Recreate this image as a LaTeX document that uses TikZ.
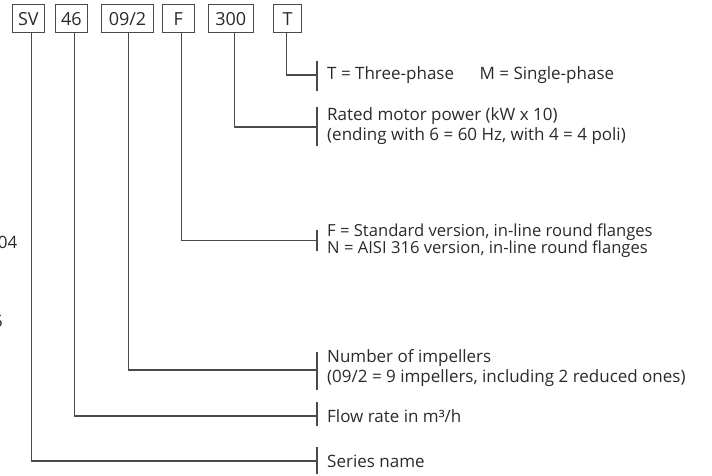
\documentclass[tikz,border=0pt]{standalone}
\usepackage{fontspec}
\setmainfont{Open Sans}
\definecolor{linec}{HTML}{4A4A4A}
\definecolor{txt}{HTML}{2A2A2A}
\begin{document}
\begin{tikzpicture}[x=1pt,y=-1pt,
  code/.style={draw=linec, line width=0.9pt, minimum height=28pt, inner sep=0pt, font=\fontsize{18}{20}\selectfont, text=txt},
  lbl/.style={anchor=west, align=left, inner sep=0pt, font=\fontsize{17}{20.5}\selectfont, text=txt},
  tight/.style={font=\fontsize{16.6}{16.5}\selectfont},
  conn/.style={draw=linec, line width=1.2pt},
  bar/.style={draw=linec, line width=1.2pt},
]
\useasboundingbox (0,0) rectangle (712,476);
% code boxes
\node[code, minimum width=32.7pt] (sv) at (28.35,18.7) {SV};
\node[code, minimum width=32pt] (n46) at (71.3,18.7) {46};
\node[code, minimum width=51.6pt] (n092) at (127.5,18.7) {09/2};
\node[code, minimum width=31.3pt] (nF) at (178.35,18.7) {F};
\node[code, minimum width=45pt] (n300) at (230.8,18.7) {300};
\node[code, minimum width=28.4pt] (nT) at (287.5,18.7) {T};
% bar end points
\coordinate (eT) at (317,75);
\coordinate (e300) at (317,127);
\coordinate (eF) at (317,240.5);
\coordinate (e092) at (317,370);
\coordinate (e46) at (317,416);
\coordinate (eSV) at (317,461);
\coordinate (bT1) at (317,61);   \coordinate (bT2) at (317,91);
\coordinate (b3001) at (317,107); \coordinate (b3002) at (317,146);
\coordinate (bF1) at (317,230);  \coordinate (bF2) at (317,251);
\coordinate (b0921) at (317,352); \coordinate (b0922) at (317,390);
\coordinate (b461) at (317,402); \coordinate (b462) at (317,426);
\coordinate (bSV1) at (317,447); \coordinate (bSV2) at (317,474);
% connectors
\draw[conn] ([xshift=-0.8pt]nT.south) |- (eT);
\draw[conn] ([xshift=3.9pt]n300.south) |- (e300);
\draw[conn] ([xshift=3.35pt]nF.south) |- (eF);
\draw[conn] ([xshift=0.8pt]n092.south) |- (e092);
\draw[conn] ([xshift=3.4pt]n46.south) |- (e46);
\draw[conn] ([xshift=2.95pt]sv.south) |- (eSV);
% bars
\draw[bar] (bT1) -- (bT2);
\draw[bar] (b3001) -- (b3002);
\draw[bar] (bF1) -- (bF2);
\draw[bar] (b0921) -- (b0922);
\draw[bar] (b461) -- (b462);
\draw[bar] (bSV1) -- (bSV2);
% labels
\node[lbl] (tT) at (327,75) {T = Three-phase\hspace{1.5em}M = Single-phase};
\node[lbl] (t300) at (327,126) {Rated motor power (kW x 10)\\(ending with 6 = 60 Hz, with 4 = 4 poli)};
\node[lbl, tight] (tF) at (327,240.5) {F = Standard version, in-line round flanges\\N = AISI 316 version, in-line round flanges};
\node[lbl] (t092) at (327,368) {Number of impellers\\(09/2 = 9 impellers, including 2 reduced ones)};
\node[lbl] (t46) at (327,416) {Flow rate in m³/h};
\node[lbl] (tSV) at (327,461) {Series name};
% clipped fragments at left edge
\begin{scope}
\clip (0,0) rectangle (712,476);
\node[lbl, anchor=east] (f04) at (17.5,242) {04};
\node[lbl, anchor=east] (f5) at (3,322) {5};
\end{scope}
\end{tikzpicture}
\end{document}
